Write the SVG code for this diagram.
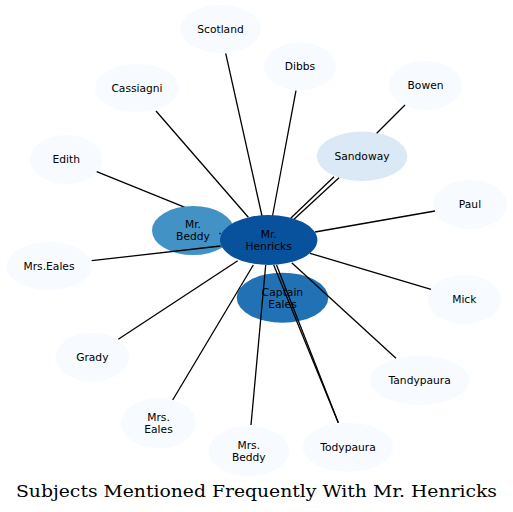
<svg xmlns="http://www.w3.org/2000/svg" width="513" height="512" viewBox="0 0 513 512">
<style>
.n0{fill:#f7fbff}
.lbl{font-family:"DejaVu Sans",sans-serif;font-size:10.7px;fill:#000;text-anchor:middle}
.e{stroke:#000;stroke-width:1.3;fill:none}
.title{font-family:"DejaVu Serif","Liberation Serif",serif;font-size:16px;fill:#000}
</style>
<rect width="513" height="512" fill="#fff"/>
<g id="node-scotland"><ellipse class="n0" cx="220.5" cy="29" rx="40.5" ry="24"/><text class="lbl" x="220.5" y="32.9">Scotland</text></g>
<g id="node-dibbs"><ellipse class="n0" cx="300" cy="66.5" rx="36" ry="24"/><text class="lbl" x="300" y="70.4">Dibbs</text></g>
<g id="node-cassiagni"><ellipse class="n0" cx="137" cy="88" rx="42" ry="24"/><text class="lbl" x="137" y="91.9">Cassiagni</text></g>
<g id="node-bowen"><ellipse class="n0" cx="425.5" cy="85.5" rx="36.5" ry="24.5"/><text class="lbl" x="425.5" y="89.4">Bowen</text></g>
<g id="node-sandoway"><ellipse fill="#dbe9f6" cx="362" cy="156.3" rx="45.3" ry="24.7"/><text class="lbl" x="362" y="160.2">Sandoway</text></g>
<g id="node-paul"><ellipse class="n0" cx="470" cy="204.5" rx="37" ry="24.5"/><text class="lbl" x="470" y="208.4">Paul</text></g>
<g id="node-edith"><ellipse class="n0" cx="66.3" cy="159.5" rx="36.3" ry="24.5"/><text class="lbl" x="66.3" y="163.4">Edith</text></g>
<g id="node-mrseales1"><ellipse class="n0" cx="49" cy="266" rx="42.5" ry="24"/><text class="lbl" x="49" y="269.9">Mrs.Eales</text></g>
<g id="node-mick"><ellipse class="n0" cx="464.3" cy="299.5" rx="36.7" ry="24.5"/><text class="lbl" x="464.3" y="303.4">Mick</text></g>
<g id="node-tandypaura"><ellipse class="n0" cx="419.7" cy="380.3" rx="49.7" ry="24.7"/><text class="lbl" x="419.7" y="384.2">Tandypaura</text></g>
<g id="node-grady"><ellipse class="n0" cx="92.3" cy="357.2" rx="36.7" ry="24.5"/><text class="lbl" x="92.3" y="361.1">Grady</text></g>
<g id="node-mrseales2"><ellipse class="n0" cx="158.5" cy="423.3" rx="37.5" ry="25"/><text class="lbl" x="158.5" y="421.2">Mrs.</text><text class="lbl" x="158.5" y="433.2">Eales</text></g>
<g id="node-mrsbeddy"><ellipse class="n0" cx="248.8" cy="451" rx="40.5" ry="25"/><text class="lbl" x="248.8" y="448.9">Mrs.</text><text class="lbl" x="248.8" y="460.9">Beddy</text></g>
<g id="node-todypaura"><ellipse class="n0" cx="348" cy="447.2" rx="45.3" ry="24.5"/><text class="lbl" x="348" y="451.1">Todypaura</text></g>
<g id="edges-under">
<line class="e" x1="96.7" y1="171.7" x2="185" y2="207.4"/>
</g>
<g id="node-mrbeddy"><ellipse fill="#4292c6" cx="193" cy="230.5" rx="41" ry="24.5"/><text class="lbl" x="193" y="228.4">Mr.</text><text class="lbl" x="193" y="240.4">Beddy</text></g>
<g id="node-captaineales"><ellipse fill="#2171b5" cx="282.5" cy="297.7" rx="45.8" ry="25"/><text class="lbl" x="282.5" y="295.6">Captain</text><text class="lbl" x="282.5" y="307.6">Eales</text></g>
<g id="edges">
<line class="e" x1="225.7" y1="53.3" x2="262" y2="216"/>
<line class="e" x1="296" y1="90.7" x2="272.5" y2="216"/>
<line class="e" x1="156" y1="111" x2="248.3" y2="217.3"/>
<line class="e" x1="91.7" y1="260.7" x2="220.5" y2="246"/>
<line class="e" x1="435" y1="211" x2="315" y2="232"/>
<line class="e" x1="431" y1="289.3" x2="310" y2="253.3"/>
<line class="e" x1="396" y1="358.3" x2="291.7" y2="262.7"/>
<line class="e" x1="118.3" y1="339.3" x2="237.7" y2="260.7"/>
<line class="e" x1="172.7" y1="400" x2="253.3" y2="265"/>
<line class="e" x1="251" y1="425" x2="265.7" y2="265"/>
<line class="e" x1="338.3" y1="422.7" x2="273.7" y2="265"/>
<line class="e" x1="338.3" y1="422.7" x2="276.5" y2="265"/>
<line class="e" x1="290.7" y1="218.3" x2="334" y2="176.7"/>
<line class="e" x1="294" y1="219.3" x2="339" y2="177.7"/>
<line class="e" x1="376.7" y1="133.3" x2="405" y2="105"/>
<line class="e" x1="219.3" y1="233.5" x2="220.5" y2="233.5"/>
</g>
<g id="node-mrhenricks"><ellipse fill="#08519c" cx="268.7" cy="240" rx="48.7" ry="25"/><text class="lbl" x="268.7" y="237.9">Mr.</text><text class="lbl" x="268.7" y="249.9">Henricks</text></g>
<text class="title" x="16" y="496.5" textLength="481" lengthAdjust="spacingAndGlyphs">Subjects Mentioned Frequently With Mr. Henricks</text>
</svg>
